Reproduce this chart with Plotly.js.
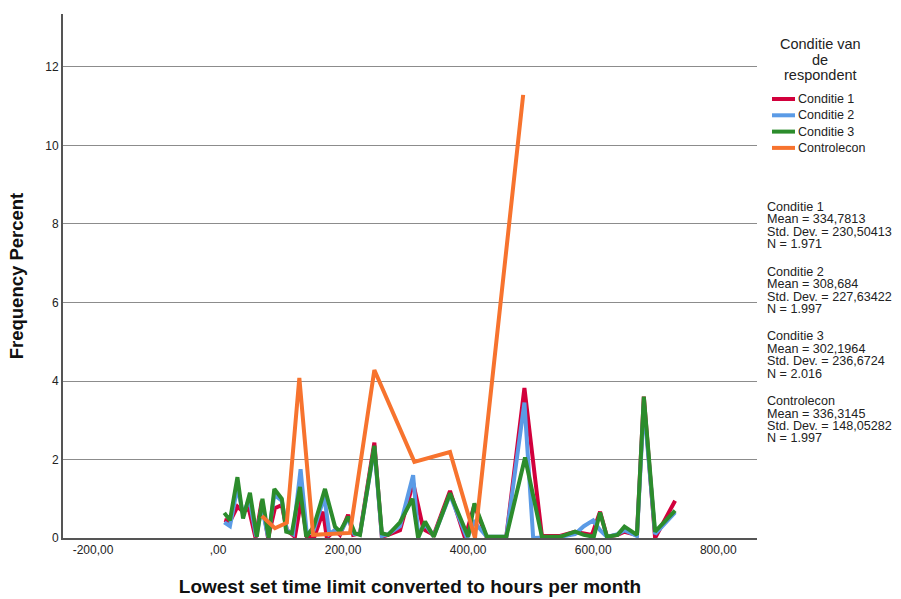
<!DOCTYPE html>
<html>
<head>
<meta charset="utf-8">
<script src="https://cdn.plot.ly/plotly-3.0.1.min.js"></script>
<style>html,body{margin:0;padding:0;background:#fff;}#chart{width:901px;height:599px;}</style>
</head>
<body>
<div id="chart"></div>
<script>
// Series names
const seriesNames = ["Conditie 1", "Conditie 2", "Conditie 3", "Controlecon"];
const legendTitleLines = ["Conditie van", "de", "respondent"];

// Conditie 1
const x1 = [10,19,31,40,49,60,70,80,91,102,110,123,133,142,154,168,174,187,195,208,216,227,250,262,272,291,312,328,331,345,371,395,410,430,461,490,518,547,571,598,611,622,639,650,670,681,699,731];
const y1 = [0.46,0.42,0.8,0.67,0.76,0,0.95,0,0.76,0.84,0.2,0.03,0.97,0.03,0.03,0.67,0,0.2,0.08,0.59,0.08,0.12,2.43,0.03,0.08,0.2,1.4,0.25,0.2,0.08,1.2,0,0.84,0,0.03,3.82,0.05,0.05,0.16,0.08,0.67,0.03,0.08,0.16,0.08,3.6,0,0.95];

// Conditie 2
const x2 = [10,19,31,40,50,61,70,80,90,102,110,120,132,142,153,170,178,187,195,208,218,227,250,262,272,291,312,320,331,345,371,398,410,430,461,490,504,547,571,585,600,611,622,639,650,670,681,699,731];
const y2 = [0.4,0.3,1.3,0.6,1.0,0.03,0.8,0.03,1.1,0.95,0.2,0.1,1.75,0.1,0.2,1.05,0.1,0.2,0.12,0.5,0.1,0.1,2.3,0.05,0.1,0.3,1.6,0.1,0.35,0.05,1.1,0,0.4,0.03,0.03,3.45,0,0.03,0.1,0.3,0.45,0.2,0.03,0.1,0.2,0.05,3.4,0.1,0.65];

// Conditie 3
const x3 = [10,19,31,40,51,62,71,81,90,102,109,118,131,141,153,171,187,195,208,219,227,250,262,272,291,311,320,331,345,371,400,410,430,461,491,518,547,571,585,601,611,622,639,650,670,681,699,731];
const y3 = [0.64,0.45,1.55,0.5,1.15,0.03,1.0,0,1.25,1.0,0.16,0.12,1.3,0.03,0.29,1.25,0.29,0.16,0.54,0.12,0.08,2.35,0.12,0.08,0.4,1.0,0,0.42,0.03,1.14,0.03,0.88,0.03,0.03,2.05,0.03,0.03,0.16,0.08,0.03,0.65,0.03,0.08,0.29,0.08,3.6,0.16,0.7];

// Controlecon
const x4 = [70,91,110,130,152,211,250,314,371,411,488];
const y4 = [0.56,0.25,0.39,4.08,0.08,0.13,4.28,1.94,2.19,0,11.29];

// Tick labels
const xTickVals = [-200, 0, 200, 400, 600, 800];
const xTickText = ["-200,00", ",00", "200,00", "400,00", "600,00", "800,00"];
const yTickVals = [0, 2, 4, 6, 8, 10, 12];

// Summary statistics text
const statLines = [
  "Conditie 1", "Mean = 334,7813", "Std. Dev. = 230,50413", "N = 1.971",
  "Conditie 2", "Mean = 308,684", "Std. Dev. = 227,63422", "N = 1.997",
  "Conditie 3", "Mean = 302,1964", "Std. Dev. = 236,6724", "N = 2.016",
  "Controlecon", "Mean = 336,3145", "Std. Dev. = 148,05282", "N = 1.997"
];

const colors = ["#D2003C", "#5B9BE6", "#2C8C2C", "#F7732E"];
const FONT = "Liberation Sans, Arial, sans-serif";

const xs = [x1, x2, x3, x4];
const ys = [y1, y2, y3, y4];
const traces = seriesNames.map((n, i) => ({
  type: "scatter", mode: "lines", name: n,
  x: xs[i], y: ys[i],
  line: {color: colors[i], width: 4},
  hoverinfo: "x+y+name", showlegend: false
}));

// layout geometry
const L = 63, R = 144, T = 14, B = 61;
const W = 901, H = 599;
const pw = W - L - R, ph = H - T - B;
const px2paper = p => (p - L) / pw;
const py2paper = p => (H - B - p) / ph;

const annotations = [];
const shapes = [];

// Legend title (three centred lines)
legendTitleLines.forEach((t, i) => {
  annotations.push({
    xref: "paper", yref: "paper", x: px2paper(820), y: py2paper(44 + i * 15.5),
    xanchor: "center", yanchor: "middle", showarrow: false, align: "center", borderpad: 0,
    text: t, font: {family: FONT, size: 14.5, color: "#222"}
  });
});

// Legend entries
seriesNames.forEach((n, i) => {
  const py = 99 + i * 16.3;
  shapes.push({
    type: "line", xref: "paper", yref: "paper",
    x0: px2paper(772), x1: px2paper(795), y0: py2paper(py), y1: py2paper(py),
    line: {color: colors[i], width: 4}
  });
  annotations.push({
    xref: "paper", yref: "paper", x: px2paper(797), y: py2paper(py),
    xanchor: "left", yanchor: "middle", showarrow: false, align: "left", borderpad: 0,
    text: n, font: {family: FONT, size: 12.5, color: "#222"}
  });
});

// Statistics blocks
statLines.forEach((t, i) => {
  const block = Math.floor(i / 4), line = i % 4;
  const py = 207 + block * 64.7 + line * 12.4;
  annotations.push({
    xref: "paper", yref: "paper", x: px2paper(766), y: py2paper(py),
    xanchor: "left", yanchor: "middle", showarrow: false, align: "left", borderpad: 0,
    text: t, font: {family: FONT, size: 12.6, color: "#222"}
  });
});

const layout = {
  width: W, height: H,
  margin: {l: L, r: R, t: T, b: B, pad: 0},
  paper_bgcolor: "#fff", plot_bgcolor: "#fff",
  font: {family: FONT, size: 12, color: "#222"},
  showlegend: false,
  xaxis: {
    range: [-248, 862], tickvals: xTickVals, ticktext: xTickText,
    showgrid: false, zeroline: false, showline: true, linecolor: "#555", linewidth: 2,
    ticks: "", tickfont: {family: FONT, size: 12, color: "#222"},
    title: {text: "<b>Lowest set time limit converted to hours per month</b>", font: {family: FONT, size: 19, color: "#111"}, standoff: 23}
  },
  yaxis: {
    range: [0, 13.35], tickvals: yTickVals,
    showgrid: true, gridcolor: "#8c8c8c", gridwidth: 1,
    zeroline: false, showline: true, linecolor: "#555", linewidth: 2,
    ticks: "", tickfont: {family: FONT, size: 12, color: "#222"},
    title: {text: "<b>Frequency Percent</b>", font: {family: FONT, size: 18.5, color: "#111"}, standoff: 17}
  },
  annotations: annotations,
  shapes: shapes
};

Plotly.newPlot("chart", traces, layout, {displayModeBar: false});
</script>
</body>
</html>
